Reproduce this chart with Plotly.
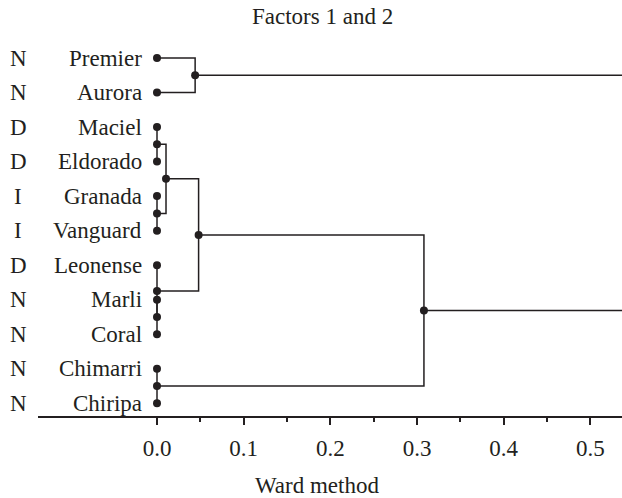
import plotly.graph_objects as go

# ---- data ----
leaves = ["Premier", "Aurora", "Maciel", "Eldorado", "Granada", "Vanguard",
          "Leonense", "Marli", "Coral", "Chimarri", "Chiripa"]
groups = ["N", "N", "D", "D", "I", "I", "D", "N", "N", "N", "N"]
# merges: (child1, child2, height, new node name)
merge_a = ["Maciel", "Granada", "Marli", "Chimarri", "Leonense", "A", "Premier", "F", "H", "G"]
merge_b = ["Eldorado", "Vanguard", "Coral", "Chiripa", "C", "B", "Aurora", "E", "D", "I"]
merge_h = [0.0, 0.0, 0.0, 0.0, 0.0, 0.0104, 0.044, 0.048, 0.308, 0.62]
merge_n = ["A", "B", "C", "D", "E", "F", "G", "H", "I", "Root"]
tick_vals = [0.0, 0.1, 0.2, 0.3, 0.4, 0.5]
tick_text = ["0.0", "0.1", "0.2", "0.3", "0.4", "0.5"]
minor_vals = [0.05, 0.15, 0.25, 0.35, 0.45]

# ---- layout geometry (page pixels; page body margin removed) ----
W, H = 622, 498
ML, MR, MT = 38, 0, 40
AXIS_PX = 415.7
MB = H - AXIS_PX
ROW0_PX, ROW_PX = 58.0, 34.5
X0_PX, PX_PER_UNIT = 157.0, 866.7
xrange = [(ML - X0_PX) / PX_PER_UNIT, (W - MR - X0_PX) / PX_PER_UNIT]
yrange = [-(AXIS_PX - ROW0_PX) / ROW_PX, (ROW0_PX - MT) / ROW_PX]
plot_h = AXIS_PX - MT
plot_w = W - ML - MR

INK = "#231f20"
FONT = "Liberation Serif"
FS = 23

# node positions
pos = {name: (0.0, -i) for i, name in enumerate(leaves)}
lx, ly = [], []
dx, dy = [0.0] * len(leaves), [-i for i in range(len(leaves))]
for a, b, h, n in zip(merge_a, merge_b, merge_h, merge_n):
    xa, ya = pos[a]
    xb, yb = pos[b]
    lx += [xa, h, h, xb, None]
    ly += [ya, ya, yb, yb, None]
    ym = (ya + yb) / 2
    pos[n] = (h, ym)
    dx.append(h)
    dy.append(ym)

fig = go.Figure()
fig.add_trace(go.Scatter(x=lx, y=ly, mode="lines",
                         line=dict(color=INK, width=1.5),
                         hoverinfo="skip", showlegend=False))
fig.add_trace(go.Scatter(x=dx, y=dy, mode="markers",
                         marker=dict(color=INK, size=8),
                         hoverinfo="skip", showlegend=False))

ann = []
for i, (name, g) in enumerate(zip(leaves, groups)):
    ann.append(dict(x=0, y=-i, xref="x", yref="y", text=name, showarrow=False,
                    xanchor="right", yanchor="middle", xshift=-13,
                    font=dict(family=FONT, size=FS, color=INK)))
    ann.append(dict(x=(18 - ML) / plot_w, y=-i, xref="paper", yref="y", text=g,
                    showarrow=False, xanchor="center", yanchor="middle",
                    font=dict(family=FONT, size=FS, color=INK)))
ann.append(dict(x=(322 - ML) / plot_w, y=(AXIS_PX - 17) / plot_h,
                xref="paper", yref="paper",
                text="Factors 1 and 2", showarrow=False, xanchor="center", yanchor="middle",
                font=dict(family=FONT, size=FS, color=INK)))
ann.append(dict(x=(317 - ML) / plot_w, y=(AXIS_PX - 485) / plot_h,
                xref="paper", yref="paper",
                text="Ward method", showarrow=False, xanchor="center", yanchor="middle",
                font=dict(family=FONT, size=FS, color=INK)))

fig.update_layout(
    width=W, height=H,
    margin=dict(l=ML, r=MR, t=MT, b=MB, pad=0),
    paper_bgcolor="white", plot_bgcolor="white",
    annotations=ann,
    hovermode=False,
    xaxis=dict(range=xrange, showgrid=False, zeroline=False,
               showline=True, linecolor=INK, linewidth=1.5,
               tickmode="array", tickvals=tick_vals, ticktext=tick_text,
               ticks="outside", ticklen=7, tickwidth=1.5, tickcolor=INK,
               ticklabelstandoff=4,
               tickfont=dict(family=FONT, size=FS, color=INK),
               minor=dict(tickmode="array", tickvals=minor_vals, ticks="outside",
                          ticklen=4, tickwidth=1.5, tickcolor=INK, showgrid=False)),
    yaxis=dict(range=yrange, visible=False, showgrid=False, zeroline=False),
)
fig.write_html("out.html", config={"displayModeBar": False},
               post_script="document.body.style.margin='0';document.body.style.overflow='hidden';")
